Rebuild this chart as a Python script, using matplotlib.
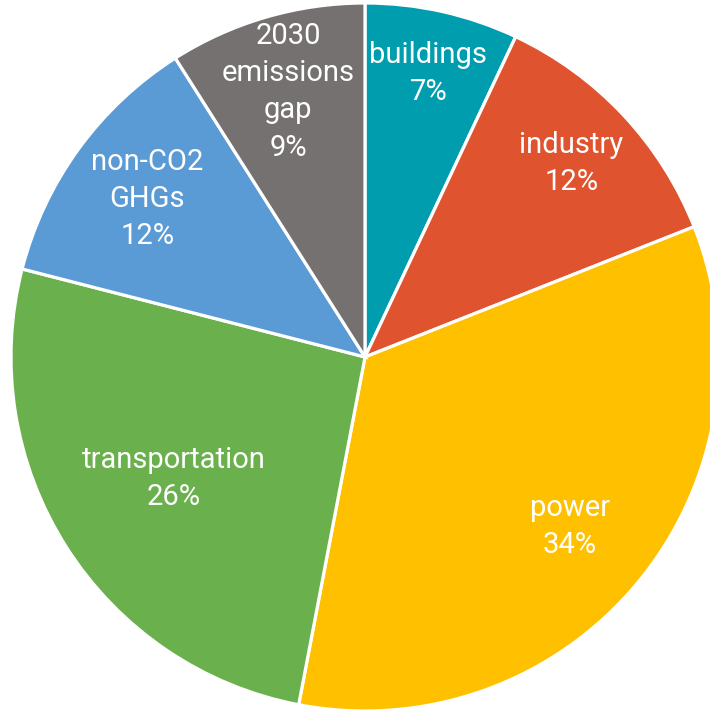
import numpy as np
import matplotlib.pyplot as plt

# Share of the 2030 emissions reductions by sector (percent)
sectors = ['buildings', 'industry', 'power', 'transportation',
           'non-CO2\nGHGs', '2030\nemissions\ngap']
shares = [7, 12, 34, 26, 12, 9]
colors = ['#009DAE', '#E0532F', '#FFC000', '#6AB04C', '#5B9BD5', '#767171']

# radial position of each label, as a fraction of the radius
label_r = [0.82, 0.80, 0.75, 0.64, 0.76, 0.78]

plt.rcParams['font.family'] = ['Roboto', 'DejaVu Sans']

fig = plt.figure(figsize=(7.10, 7.13), dpi=100)
ax = fig.add_axes([0, 0, 1, 1])

cx, cy, R = 365, 356, 354
wedges, _ = ax.pie(shares, colors=colors, startangle=90, counterclock=False,
                   center=(cx, cy), radius=R,
                   wedgeprops=dict(edgecolor='white', linewidth=2.3))

for w, name, val, fr in zip(wedges, sectors, shares, label_r):
    mid = np.deg2rad((w.theta1 + w.theta2) / 2)
    x = cx + fr * R * np.cos(mid)
    y = cy + fr * R * np.sin(mid)
    ax.text(x, y, f'{name}\n{val}%', ha='center', va='center',
            color='white', fontsize=21, linespacing=1.42)

ax.set_xlim(0, 710)
ax.set_ylim(0, 713)
ax.set_aspect('equal')
ax.axis('off')

fig.savefig('out.png', dpi=100)
